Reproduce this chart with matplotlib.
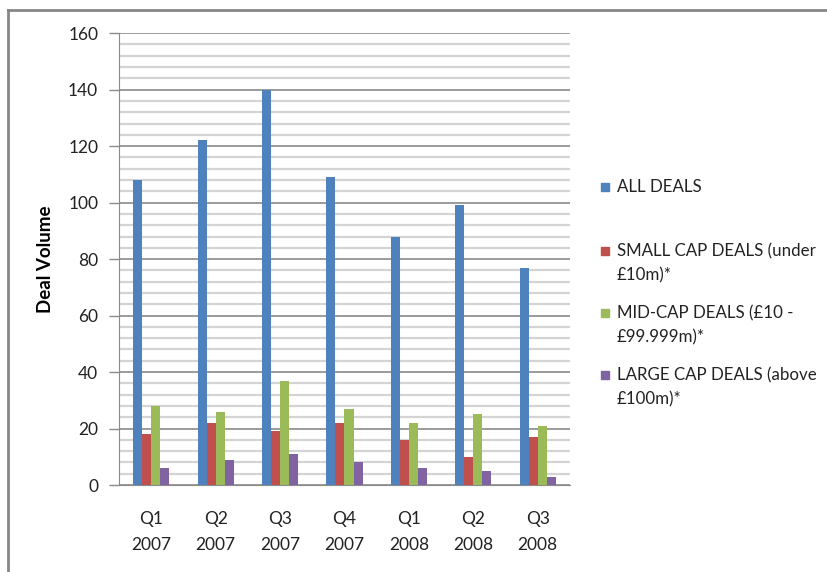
import matplotlib
matplotlib.use("Agg")
import matplotlib.pyplot as plt
import numpy as np
from matplotlib.patches import Rectangle
from matplotlib.lines import Line2D

quarters = ["Q1\n2007", "Q2\n2007", "Q3\n2007", "Q4\n2007", "Q1\n2008", "Q2\n2008", "Q3\n2008"]
all_deals = [108, 122, 140, 109, 88, 99, 77]
small_cap = [18, 22, 19, 22, 16, 10, 17]
mid_cap = [28, 26, 37, 27, 22, 25, 21]
large_cap = [6, 9, 11, 8, 6, 5, 3]
series_labels = ["ALL DEALS", "SMALL CAP DEALS (under\n£10m)*",
                 "MID-CAP DEALS (£10 -\n£99.999m)*", "LARGE CAP DEALS (above\n£100m)*"]
colors = ["#4F81BD", "#C0504D", "#9BBB59", "#8064A2"]

plt.rcParams['font.family'] = ['Lato', 'DejaVu Sans']

fig = plt.figure(figsize=(8.28, 5.72), dpi=100)
ax = fig.add_axes([0.1437, 0.152, 0.5447, 0.790])

x = np.arange(len(quarters))
bw = 0.14
for i, (vals, c) in enumerate(zip([all_deals, small_cap, mid_cap, large_cap], colors)):
    ax.bar(x + (i - 1.5) * bw, vals, width=bw, color=c, zorder=3)

ax.set_xlim(-0.5, len(quarters) - 0.5)
ax.set_ylim(0, 160)
ax.set_yticks(np.arange(0, 161, 20))
ax.set_yticks(np.arange(0, 161, 4), minor=True)
ax.grid(axis="y", which="minor", color="#d4d4d4", linewidth=1.6, zorder=0)
ax.grid(axis="y", which="major", color="#8a8a8a", linewidth=1.2, zorder=1)
ax.set_xticks(x)
ax.set_xticklabels(quarters, linespacing=1.75)
ax.tick_params(axis="x", length=0, pad=19, labelsize=12.5, colors="#222222")
ax.tick_params(axis="y", which="major", length=7, width=1, color="#8a8a8a",
               labelsize=12.5, labelcolor="#222222", pad=8)
ax.tick_params(axis="y", which="minor", length=0)
for s in ["top", "right"]:
    ax.spines[s].set_visible(False)
ax.spines["left"].set_color("#8a8a8a")
ax.spines["bottom"].set_color("#8a8a8a")
ax.set_ylabel("Deal Volume", fontsize=13.5, fontweight="bold", labelpad=10)

# legend drawn by hand so the square lines up with the first text line
ys = [187, 251, 313, 375]
for lab, c, yp in zip(series_labels, colors, ys):
    fy = 1 - yp / 572
    fig.patches.append(Rectangle((601 / 828, fy - 4 / 572), 8 / 828, 8 / 572,
                                 transform=fig.transFigure, color=c))
    fig.text(617 / 828, fy + 8 / 572, lab, fontsize=12.2, color="#222222",
             va="top", ha="left", linespacing=1.6)

# outer chart frame (left and top edges)
fig.add_artist(Line2D([8 / 828, 8 / 828], [0, 1 - 10 / 572], transform=fig.transFigure,
                      color="#868686", linewidth=2))
fig.add_artist(Line2D([8 / 828, 1], [1 - 10 / 572, 1 - 10 / 572], transform=fig.transFigure,
                      color="#868686", linewidth=2))

fig.savefig("out.png", dpi=100)
plt.close(fig)
